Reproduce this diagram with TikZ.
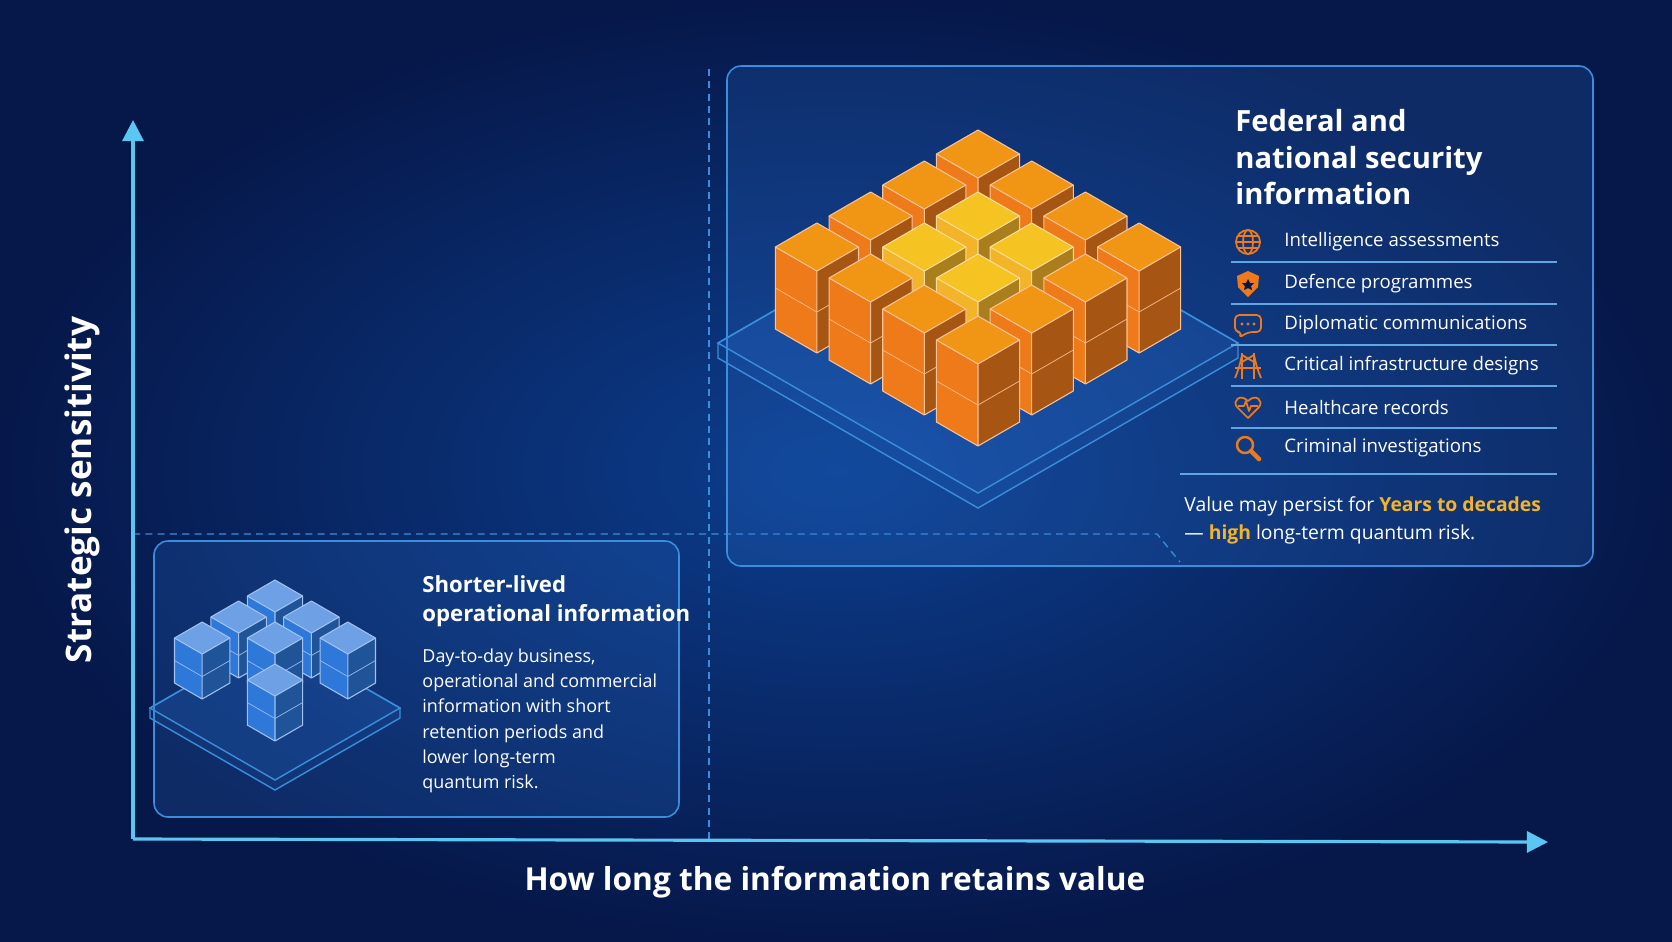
\documentclass[tikz,border=0pt]{standalone}
\usepackage{fontspec}
\setmainfont{Open Sans}
\usetikzlibrary{positioning, arrows.meta}
\definecolor{mnavy}{HTML}{06184A}
\definecolor{mmid}{HTML}{0C3E8E}
\definecolor{maxis}{HTML}{5CC6F2}
\definecolor{mline}{HTML}{3A8EDB}
\definecolor{morange}{HTML}{EE7A1A}
\definecolor{mgold}{HTML}{F3B42A}
\definecolor{mcube}{HTML}{2E78DA}
\tikzstyle{panel} = [draw=mline, rounded corners=4pt, fill=mcube, fill opacity=0.2, line width=0.45]
\tikzstyle{guide} = [draw=mline, dashed, line width=0.4, dash pattern=on 2pt off 1.5pt]
\tikzstyle{axis} = [draw=maxis, line width=0.9, -{Triangle[length=6pt,width=6pt]}]
\tikzstyle{item} = [anchor=west, text=white, font=\fontsize{5.3}{6.5}\selectfont]
\tikzstyle{sep} = [draw=mline!80, line width=0.3]
\tikzstyle{icon} = [draw=morange, line width=0.5, line join=round]
\tikzstyle{plate} = [draw=mline, fill=mcube, fill opacity=0.12, line width=0.4]
% isometric cube: x, y, size, height, colour, top colour
\newcommand{\isocube}[6]{%
  \begin{scope}[shift={(#1,#2)}]
    \fill[#5] (0,0) -- (-0.866*#3,-0.5*#3) -- (-0.866*#3,-0.5*#3+#4) -- (0,#4) -- cycle;
    \fill[#5!70!black] (0,0) -- (0.866*#3,-0.5*#3) -- (0.866*#3,-0.5*#3+#4) -- (0,#4) -- cycle;
    \fill[#6] (0,0) -- (-0.866*#3,-0.5*#3) -- (0,-#3) -- (0.866*#3,-0.5*#3) -- cycle;
    \draw[#5!45!white, line width=0.3, line join=round] (0,0) -- (-0.866*#3,-0.5*#3) -- (0,-#3) -- (0.866*#3,-0.5*#3) -- cycle;
    \draw[#5!45!white, line width=0.3, line join=round] (-0.866*#3,-0.5*#3) -- (-0.866*#3,-0.5*#3+#4) -- (0,#4) -- (0.866*#3,-0.5*#3+#4) -- (0.866*#3,-0.5*#3) (0,0) -- (0,#4);
    \draw[#5!50!white, line width=0.2] (-0.866*#3,-0.5*#3+0.5*#4) -- (0,0.5*#4) -- (0.866*#3,-0.5*#3+0.5*#4);
  \end{scope}}

\begin{document}
\begin{tikzpicture}[x=0.01cm, y=-0.01cm]
  \useasboundingbox (0,0) rectangle (1672,941);
  \shade[inner color=mmid, outer color=mnavy] (0,0) rectangle (1672,941);

  % guides and axes
  \coordinate (origin) at (133,839);
  \coordinate (ytop) at (133,120);
  \coordinate (xend) at (1548,842);
  \coordinate (vtop) at (709,69);
  \coordinate (vbot) at (709,839);
  \coordinate (hleft) at (133,534);
  \coordinate (hright) at (1157,534);
  \coordinate (hnotch) at (1180,562);
  \draw[guide] (vtop) -- (vbot);
  \draw[guide] (hleft) -- (hright) -- (hnotch);
  \draw[axis] (origin) -- (ytop);
  \draw[axis] (origin) -- (xend);
  \node (ylabel) [rotate=90, text=white, font=\fontsize{10}{12}\selectfont\bfseries] at (82,490) {Strategic sensitivity};
  \node (xlabel) [text=white, font=\fontsize{9}{12}\selectfont\bfseries] at (835,882) {How long the information retains value};

  % panels
  \draw[panel] (727,66) rectangle (1593,566);
  \draw[panel] (154,541) rectangle (679,817);

  % orange stack
  \draw[plate] (978,508) -- (718,358) -- (718,343) -- (978,193) -- (1238,343) -- (1238,358) -- cycle;
  \draw[plate] (978,493) -- (718,343) -- (978,193) -- (1238,343) -- cycle;
  \foreach \i in {0,...,3}
    \foreach \j in {0,...,3} {
      \pgfmathtruncatemacro\inner{(\i>0)&&(\i<3)&&(\j>0)&&(\j<3)}
      \ifnum\inner=1 \def\cc{mgold}\else\def\cc{morange}\fi
      \pgfmathsetmacro\cx{978+(\i-\j)*53.7}
      \pgfmathsetmacro\cy{178+(\i+\j)*31}
      \isocube{\cx}{\cy}{48}{82}{\cc}{\cc!80!yellow}
    }

  % blue stack
  \draw[plate] (275,790) -- (150,718) -- (150,708) -- (275,636) -- (400,708) -- (400,718) -- cycle;
  \draw[plate] (275,780) -- (150,708) -- (275,636) -- (400,708) -- cycle;
  \foreach \i/\j in {0/0,0/1,0/2,1/0,1/1,2/0,2/2} {
    \pgfmathsetmacro\cx{275+(\i-\j)*36.4}
    \pgfmathsetmacro\cy{612+(\i+\j)*21}
    \isocube{\cx}{\cy}{32}{45}{mcube}{mcube!70!white}
  }

  % left text
  \node (shorttitle) [anchor=north west, text=white, align=left, font=\fontsize{6.3}{8.4}\selectfont\bfseries] at (410,563) {Shorter-lived\\operational information};
  \node (shortbody) [anchor=north west, text=white, align=left, font=\fontsize{5.1}{7.2}\selectfont] at (410,636) {Day-to-day business,\\operational and commercial\\information with short\\retention periods and\\lower long-term\\quantum risk.};

  % right text
  \node (fedtitle) [anchor=north west, text=white, align=left, font=\fontsize{8.3}{10.4}\selectfont\bfseries] at (1223,97) {Federal and\\national security\\information};
  \node (i1) [item] at (1272,242) {Intelligence assessments};
  \node (i2) [item] at (1272,284) {Defence programmes};
  \node (i3) [item] at (1272,325) {Diplomatic communications};
  \node (i4) [item] at (1272,366) {Critical infrastructure designs};
  \node (i5) [item] at (1272,407) {Healthcare records};
  \node (i6) [item] at (1272,448) {Criminal investigations};
  \foreach \y in {262,304,345,386,428}
    \draw[sep] (1231,\y) -- (1557,\y);
  \draw[sep, line width=0.45] (1180,474) -- (1557,474);
  \node (value) [anchor=north west, text=white, align=left, font=\fontsize{5.5}{8}\selectfont] at (1172,484)
    {Value may persist for {\color{mgold}\bfseries Years to decades}\\--- {\color{mgold}\bfseries high} long-term quantum risk.};

  % icons
  \begin{scope}[shift={(1248,242)}]
    \draw[icon] (0,0) circle (12); \draw[icon] (0,0) ellipse (5 and 12);
    \draw[icon] (-12,0) -- (12,0) (-10,-6) -- (10,-6) (-10,6) -- (10,6);
  \end{scope}
  \begin{scope}[shift={(1248,284)}]
    \fill[morange] (0,-13) -- (11,-8) -- (10,3) -- (0,13) -- (-10,3) -- (-11,-8) -- cycle;
    \fill[mnavy] (0,-5) -- (2,-1) -- (6,-1) -- (3,2) -- (4,6) -- (0,4) -- (-4,6) -- (-3,2) -- (-6,-1) -- (-2,-1) -- cycle;
  \end{scope}
  \begin{scope}[shift={(1248,325)}]
    \draw[icon, rounded corners=1.2pt] (-13,-10) -- (13,-10) -- (13,7) -- (0,7) -- (-9,13) -- (-6,7) -- (-13,7) -- cycle;
    \foreach \d in {-6,0,6} \fill[morange] (\d,-1) circle (1.6);
  \end{scope}
  \begin{scope}[shift={(1248,366)}]
    \draw[icon] (-6,-13) -- (-6,13) (6,-13) -- (6,13) (-13,2) -- (13,2);
    \draw[icon] (-13,12) .. controls (-9,2) .. (-6,-11) (13,12) .. controls (9,2) .. (6,-11);
    \draw[icon] (-6,-11) -- (6,-4) (6,-11) -- (-6,-4);
  \end{scope}
  \begin{scope}[shift={(1248,407)}]
    \draw[icon] (0,11) -- (-11,0) .. controls (-16,-6) and (-8,-14) .. (0,-6) .. controls (8,-14) and (16,-6) .. (11,0) -- cycle;
    \draw[icon] (-10,-1) -- (-4,-1) -- (-2,-6) -- (1,4) -- (3,-1) -- (10,-1);
  \end{scope}
  \begin{scope}[shift={(1248,448)}]
    \draw[icon, line width=0.7] (-3,-3) circle (8);
    \draw[icon, line width=1.3, line cap=round] (3,3) -- (11,11);
  \end{scope}
\end{tikzpicture}
\end{document}
